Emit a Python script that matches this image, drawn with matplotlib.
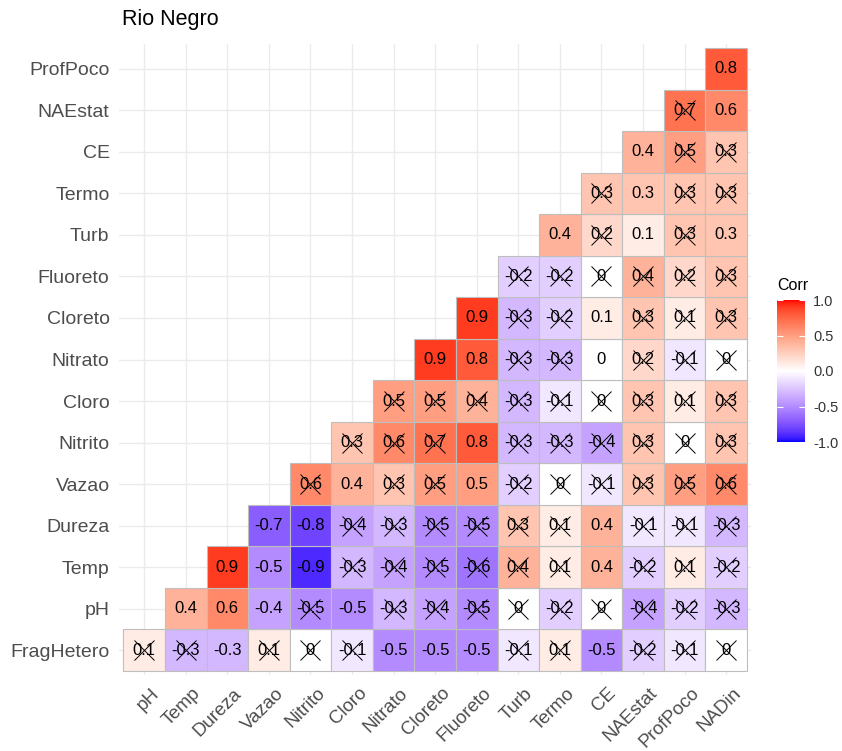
import numpy as np
import matplotlib
matplotlib.use("Agg")
import matplotlib.pyplot as plt
from matplotlib.colors import ListedColormap, Normalize
from matplotlib.ticker import FormatStrFormatter
from matplotlib.transforms import ScaledTranslation

plt.rcParams['font.family'] = ['Liberation Sans', 'DejaVu Sans']

# variables on each axis
cols = ["pH", "Temp", "Dureza", "Vazao", "Nitrito", "Cloro", "Nitrato", "Cloreto",
        "Fluoreto", "Turb", "Termo", "CE", "NAEstat", "ProfPoco", "NADin"]
rows = ["FragHetero", "pH", "Temp", "Dureza", "Vazao", "Nitrito", "Cloro", "Nitrato",
        "Cloreto", "Fluoreto", "Turb", "Termo", "CE", "NAEstat", "ProfPoco"]

# correlations per row (row i starts at column i); ns = 1 -> not significant
corr_fraghetero = [0.1, -0.3, -0.3, 0.1, 0, -0.1, -0.5, -0.5, -0.5, -0.1, 0.1, -0.5, -0.2, -0.1, 0]
ns_fraghetero = [1, 1, 0, 1, 1, 1, 0, 0, 0, 1, 1, 0, 1, 1, 1]
corr_ph = [0.4, 0.6, -0.4, -0.5, -0.5, -0.3, -0.4, -0.5, 0, -0.2, 0, -0.4, -0.2, -0.3]
ns_ph = [0, 0, 0, 1, 0, 1, 1, 1, 1, 1, 1, 1, 1, 1]
corr_temp = [0.9, -0.5, -0.9, -0.3, -0.4, -0.5, -0.6, 0.4, 0.1, 0.4, -0.2, 0.1, -0.2]
ns_temp = [0, 0, 0, 1, 1, 1, 1, 1, 1, 0, 1, 1, 1]
corr_dureza = [-0.7, -0.8, -0.4, -0.3, -0.5, -0.5, 0.3, 0.1, 0.4, -0.1, -0.1, -0.3]
ns_dureza = [0, 0, 1, 1, 1, 1, 1, 1, 0, 1, 1, 1]
corr_vazao = [0.6, 0.4, 0.3, 0.5, 0.5, -0.2, 0, -0.1, 0.3, 0.5, 0.6]
ns_vazao = [1, 0, 1, 1, 0, 1, 1, 1, 1, 1, 1]
corr_nitrito = [0.3, 0.6, 0.7, 0.8, -0.3, -0.3, -0.4, 0.3, 0, 0.3]
ns_nitrito = [1, 1, 1, 0, 1, 1, 1, 1, 1, 1]
corr_cloro = [0.5, 0.5, 0.4, -0.3, -0.1, 0, 0.3, 0.1, 0.3]
ns_cloro = [1, 1, 1, 1, 1, 1, 1, 1, 1]
corr_nitrato = [0.9, 0.8, -0.3, -0.3, 0, 0.2, -0.1, 0]
ns_nitrato = [0, 0, 1, 1, 0, 1, 1, 1]
corr_cloreto = [0.9, -0.3, -0.2, 0.1, 0.3, 0.1, 0.3]
ns_cloreto = [0, 1, 1, 0, 1, 1, 1]
corr_fluoreto = [-0.2, -0.2, 0, 0.4, 0.2, 0.3]
ns_fluoreto = [1, 1, 1, 1, 1, 1]
corr_turb = [0.4, 0.2, 0.1, 0.3, 0.3]
ns_turb = [0, 1, 0, 1, 0]
corr_termo = [0.3, 0.3, 0.3, 0.3]
ns_termo = [1, 0, 1, 1]
corr_ce = [0.4, 0.5, 0.3]
ns_ce = [0, 1, 1]
corr_naestat = [0.7, 0.6]
ns_naestat = [1, 0]
corr_profpoco = [0.8]
ns_profpoco = [0]

corr_rows = [corr_fraghetero, corr_ph, corr_temp, corr_dureza, corr_vazao, corr_nitrito,
             corr_cloro, corr_nitrato, corr_cloreto, corr_fluoreto, corr_turb, corr_termo,
             corr_ce, corr_naestat, corr_profpoco]
ns_rows = [ns_fraghetero, ns_ph, ns_temp, ns_dureza, ns_vazao, ns_nitrito, ns_cloro,
           ns_nitrato, ns_cloreto, ns_fluoreto, ns_turb, ns_termo, ns_ce, ns_naestat,
           ns_profpoco]


# blue-white-red gradient interpolated in CIELAB (like ggplot's gradient2)
WHITE_REF = np.array([0.95047, 1.0, 1.08883])
M_RGB2XYZ = np.array([[0.4124, 0.3576, 0.1805],
                      [0.2126, 0.7152, 0.0722],
                      [0.0193, 0.1192, 0.9505]])


def rgb2lab(rgb):
    c = np.asarray(rgb, float)
    c = np.where(c <= 0.04045, c / 12.92, ((c + 0.055) / 1.055) ** 2.4)
    xyz = M_RGB2XYZ @ c / WHITE_REF
    f = np.where(xyz > 0.008856, np.cbrt(xyz), 7.787 * xyz + 16 / 116)
    return np.array([116 * f[1] - 16, 500 * (f[0] - f[1]), 200 * (f[1] - f[2])])


def lab2rgb(lab):
    L, a, b = lab
    fy = (L + 16) / 116
    f = np.array([fy + a / 500, fy, fy - b / 200])
    xyz = np.where(f ** 3 > 0.008856, f ** 3, (f - 16 / 116) / 7.787) * WHITE_REF
    c = np.linalg.solve(M_RGB2XYZ, xyz)
    c = np.clip(c, 0, 1)
    c = np.where(c <= 0.0031308, 12.92 * c, 1.055 * c ** (1 / 2.4) - 0.055)
    return np.clip(c, 0, 1)


lab_blue = rgb2lab([0, 0, 1])
lab_white = rgb2lab([1, 1, 1])
lab_red = rgb2lab([1, 0, 0])
ramp = []
for t in np.linspace(-1, 1, 257):
    if t < 0:
        lab = lab_blue + (t + 1) * (lab_white - lab_blue)
    else:
        lab = lab_white + t * (lab_red - lab_white)
    ramp.append(lab2rgb(lab))
cmap = ListedColormap(ramp)
norm = Normalize(-1, 1)

fig = plt.figure(figsize=(8.42, 7.51), dpi=100)
ax = fig.add_axes([0.1417, 0.1012, 0.7503, 0.8402])

for j, (vals, ns) in enumerate(zip(corr_rows, ns_rows)):
    xs = np.arange(j, j + len(vals))
    ax.bar(xs, 1.0, bottom=j - 0.5, width=1.0, color=cmap(norm(np.array(vals))),
           edgecolor="#BEBEBE", linewidth=0.8, zorder=2)
    for x, v in zip(xs, vals):
        ax.text(x, j, "%g" % v, ha="center", va="center", fontsize=12,
                color="black", zorder=3)
    crossed = [x for x, n in zip(xs, ns) if n]
    ax.plot(crossed, [j] * len(crossed), ls="none", marker="x", ms=14,
            mew=0.7, color="black", zorder=4)

ax.set_xlim(-0.6, 14.6)
ax.set_ylim(-0.6, 14.6)
ax.set_xticks(range(len(cols)))
ax.set_yticks(range(len(rows)))
ax.set_xticklabels(cols, rotation=45, ha="right", va="top", rotation_mode="anchor",
                   fontsize=13.5, color="#4D4D4D")
ax.set_yticklabels(rows, fontsize=14, color="#4D4D4D")
ax.tick_params(length=0, pad=7)
ax.tick_params(axis="x", pad=7)
# nudge the slanted labels a little to the right of their ticks
shift = ScaledTranslation(6 / 100, 0, fig.dpi_scale_trans)
for lab in ax.get_xticklabels():
    lab.set_transform(lab.get_transform() + shift)
ax.grid(True, color="#EBEBEB", linewidth=1.0)
ax.set_axisbelow(True)
for s in ax.spines.values():
    s.set_visible(False)

fig.text(122 / 842, 1 - 20 / 751, "Rio Negro", fontsize=15.5, ha="left", va="center")

# colour legend
cax = fig.add_axes([777 / 842, 1 - 442 / 751, 28 / 842, 142 / 751])
sm = plt.cm.ScalarMappable(cmap=cmap, norm=norm)
cb = fig.colorbar(sm, cax=cax, ticks=[-1, -0.5, 0, 0.5, 1])
cb.outline.set_visible(False)
cb.ax.yaxis.set_major_formatter(FormatStrFormatter("%.1f"))
cb.ax.tick_params(left=True, right=True, direction="in", color="white", length=4,
                  width=0.8, labelsize=10.5, labelcolor="#333333", pad=6)
fig.text(777 / 842, 1 - 286 / 751, "Corr", fontsize=11.5, ha="left", va="center")

fig.savefig("out.png", dpi=100)
